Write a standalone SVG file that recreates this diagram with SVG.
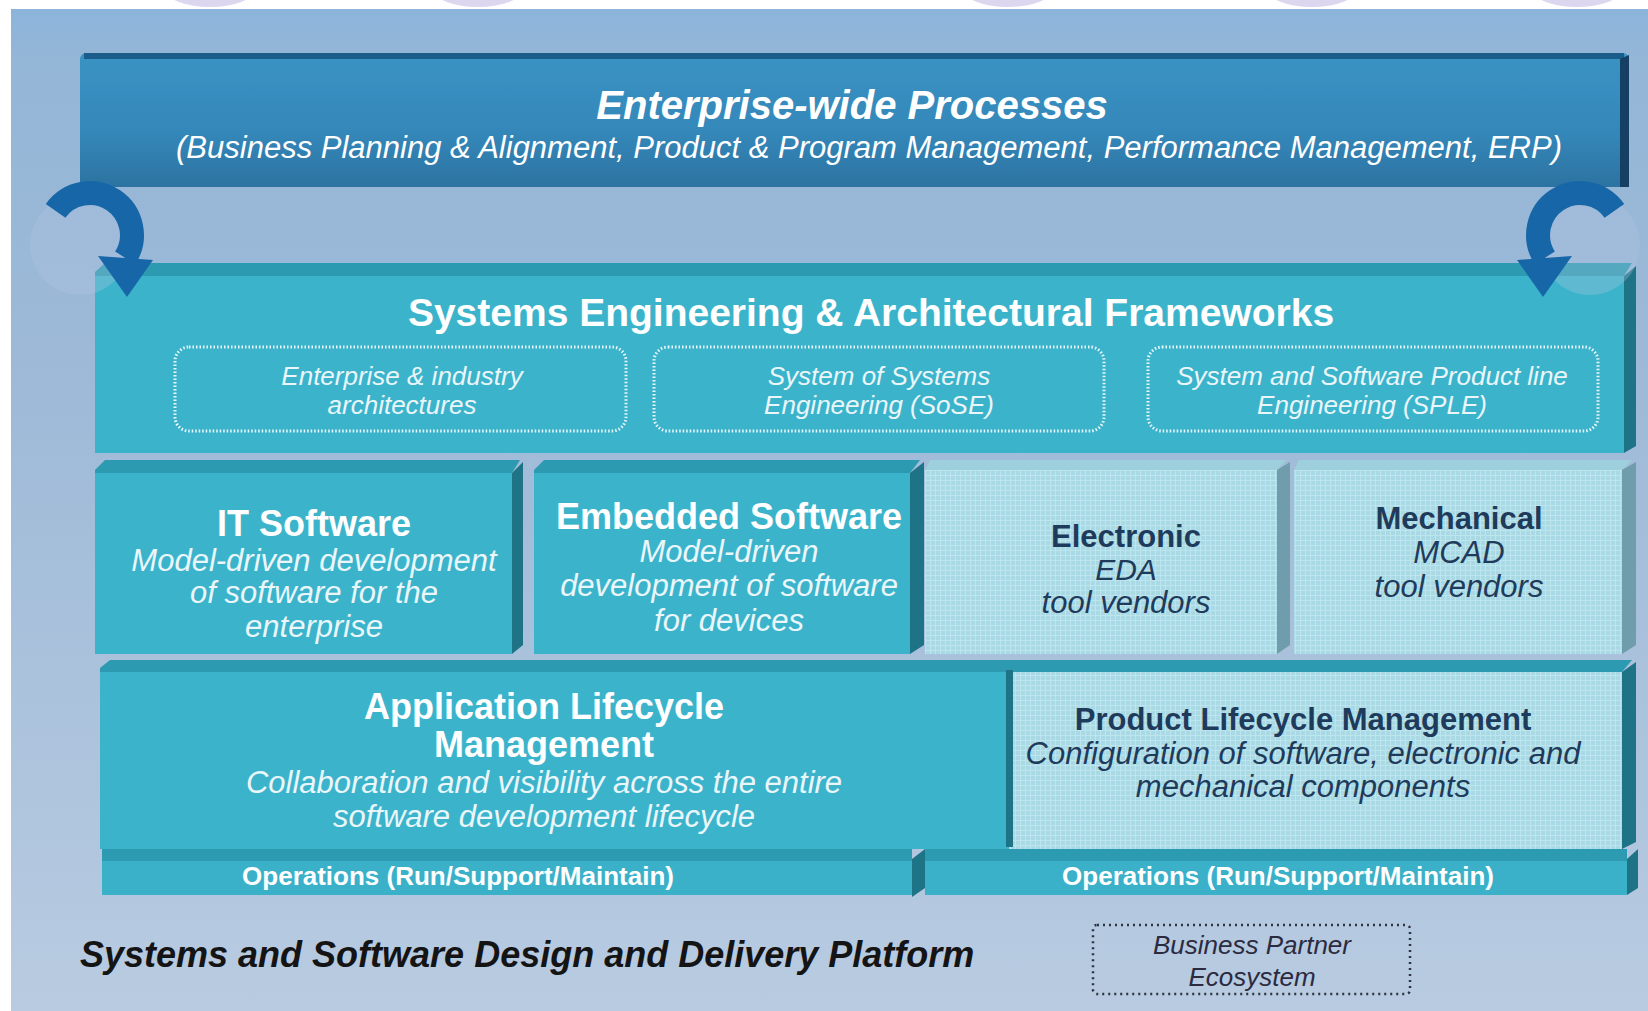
<svg xmlns="http://www.w3.org/2000/svg" width="1648" height="1011" viewBox="0 0 1648 1011">
<defs>
<linearGradient id="bgGrad" x1="0" y1="0" x2="0" y2="1">
<stop offset="0" stop-color="#8cb4db"/>
<stop offset="0.05" stop-color="#94b6d7"/>
<stop offset="0.35" stop-color="#9db9d7"/>
<stop offset="1" stop-color="#b8cbe1"/>
</linearGradient>
<linearGradient id="topGrad" x1="0" y1="0" x2="0" y2="1">
<stop offset="0" stop-color="#3a93c4"/>
<stop offset="0.6" stop-color="#3487b9"/>
<stop offset="1" stop-color="#2c73a1"/>
</linearGradient>
<pattern id="grid" width="5" height="5" patternUnits="userSpaceOnUse">
<rect width="5" height="5" fill="#a8d9e4"/>
<path d="M0 0.5H5M0.5 0V5" stroke="#bde5ed" stroke-width="1"/>
</pattern>
<style>
.t{font-family:"Liberation Sans",Arial,Helvetica,sans-serif;text-anchor:middle}
.w{fill:#ffffff}
.wi{fill:#eaf6fa;font-style:italic}
.b{font-weight:bold}
.i{font-style:italic}
.navy{fill:#1f3b5b}
.teal{fill:#3bb4cb}
.band{fill:#2c9bb1}
.bevel{fill:#1f7386}
.light{fill:url(#grid)}
.lband{fill:#9dd0dc}
.lbevel{fill:#6f9dab}
.dash{fill:none;stroke:#eaf7fb;stroke-width:3;stroke-dasharray:1.5 2}
.arrow{fill:none;stroke:#1767a8;stroke-width:24}
.ahead{fill:#1767a8}
.ghost{fill:#b3c8e0;opacity:0.3}
</style>
</defs>

<g id="background">
<rect x="0" y="0" width="1648" height="1011" fill="#ffffff"/>
<ellipse cx="210" cy="-10" rx="44" ry="17" fill="#dcd7ef"/>
<ellipse cx="478" cy="-10" rx="44" ry="17" fill="#dcd7ef"/>
<ellipse cx="1008" cy="-10" rx="44" ry="17" fill="#dcd7ef"/>
<ellipse cx="1312" cy="-10" rx="44" ry="17" fill="#dcd7ef"/>
<ellipse cx="1577" cy="-10" rx="44" ry="17" fill="#dcd7ef"/>
<rect x="11" y="9" width="1637" height="1002" fill="url(#bgGrad)"/>
</g>

<g id="enterprise-processes">
<rect x="80" y="53" width="1549" height="134" rx="6" fill="url(#topGrad)"/>
<rect x="84" y="53" width="1540" height="6" fill="#1a5d8a"/>
<polygon points="1620,59 1629,55 1629,187 1620,187" fill="#153f63"/>
<text x="852" y="119" font-size="40" class="t w b i">Enterprise-wide Processes</text>
<text x="869" y="158" font-size="31" class="t w i">(Business Planning &amp; Alignment, Product &amp; Program Management, Performance Management, ERP)</text>
</g>

<g id="systems-engineering">
<polygon points="105,263 1632,263 1624,276 95,276 95,272" class="band"/>
<rect x="95" y="276" width="1529" height="177" class="teal"/>
<polygon points="1624,276 1636,266 1636,446 1624,453" class="bevel"/>
<text x="871" y="326" font-size="39" class="t w b">Systems Engineering &amp; Architectural Frameworks</text>
<g id="enterprise-architectures">
<rect x="175" y="347" width="451" height="84" rx="14" class="dash"/>
<text x="402" y="385" font-size="26" class="t wi">Enterprise &amp; industry</text>
<text x="402" y="414" font-size="26" class="t wi">architectures</text>
</g>
<g id="sose">
<rect x="654" y="347" width="450" height="84" rx="14" class="dash"/>
<text x="879" y="385" font-size="26" class="t wi">System of Systems</text>
<text x="879" y="414" font-size="26" class="t wi">Engineering (SoSE)</text>
</g>
<g id="sple">
<rect x="1148" y="347" width="450" height="84" rx="14" class="dash"/>
<text x="1372" y="385" font-size="26" class="t wi">System and Software Product line</text>
<text x="1372" y="414" font-size="26" class="t wi">Engineering (SPLE)</text>
</g>
</g>

<g id="it-software">
<polygon points="105,460 520,460 512,473 95,473 95,470" class="band"/>
<rect x="95" y="473" width="417" height="181" class="teal"/>
<polygon points="512,473 523,462 523,645 512,654" class="bevel"/>
<text x="314" y="536" font-size="36" class="t w b">IT Software</text>
<text x="314" y="571" font-size="31" class="t wi">Model-driven development</text>
<text x="314" y="603" font-size="31" class="t wi">of software for the</text>
<text x="314" y="637" font-size="31" class="t wi">enterprise</text>
</g>

<g id="embedded-software">
<polygon points="544,460 920,460 910,473 534,473 534,470" class="band"/>
<rect x="534" y="473" width="376" height="181" class="teal"/>
<polygon points="910,473 924,462 924,645 910,654" class="bevel"/>
<text x="729" y="529" font-size="36" class="t w b">Embedded Software</text>
<text x="729" y="562" font-size="31" class="t wi">Model-driven</text>
<text x="729" y="596" font-size="31" class="t wi">development of software</text>
<text x="729" y="631" font-size="31" class="t wi">for devices</text>
</g>

<g id="electronic">
<polygon points="930,460 1286,460 1277,470 925,470" class="lband"/>
<rect x="925" y="470" width="352" height="184" class="light"/>
<polygon points="1277,470 1290,462 1290,645 1277,654" class="lbevel"/>
<text x="1126" y="547" font-size="31" class="t navy b">Electronic</text>
<text x="1126" y="580" font-size="30" class="t navy i">EDA</text>
<text x="1126" y="613" font-size="31" class="t navy i">tool vendors</text>
</g>

<g id="mechanical">
<polygon points="1299,460 1632,460 1622,470 1294,470" class="lband"/>
<rect x="1294" y="470" width="328" height="184" class="light"/>
<polygon points="1622,470 1636,462 1636,645 1622,654" class="lbevel"/>
<text x="1459" y="529" font-size="31" class="t navy b">Mechanical</text>
<text x="1459" y="563" font-size="31" class="t navy i">MCAD</text>
<text x="1459" y="597" font-size="31" class="t navy i">tool vendors</text>
</g>

<g id="alm">
<polygon points="110,660 1632,660 1622,672 100,672 100,668" class="band"/>
<rect x="100" y="672" width="909" height="177" class="teal"/>
<text x="544" y="719" font-size="36" class="t w b">Application Lifecycle</text>
<text x="544" y="757" font-size="36" class="t w b">Management</text>
<text x="544" y="793" font-size="31" class="t wi">Collaboration and visibility across the entire</text>
<text x="544" y="827" font-size="31" class="t wi">software development lifecycle</text>
</g>

<g id="plm">
<rect x="1009" y="672" width="613" height="177" class="light"/>
<rect x="1006" y="670" width="7" height="177" class="bevel"/>
<polygon points="1622,672 1636,662 1636,842 1622,849" class="bevel"/>
<text x="1303" y="730" font-size="31" class="t navy b">Product Lifecycle Management</text>
<text x="1303" y="764" font-size="31" class="t navy i">Configuration of software, electronic and</text>
<text x="1303" y="797" font-size="31" class="t navy i">mechanical components</text>
</g>

<g id="ops-left">
<rect x="102" y="849" width="810" height="12" class="band"/>
<rect x="102" y="861" width="810" height="34" fill="#3ab1c9"/>
<polygon points="912,859 925,849 925,888 912,897" class="bevel"/>
<text x="458" y="885" font-size="26" class="t w b">Operations (Run/Support/Maintain)</text>
</g>

<g id="ops-right">
<rect x="925" y="849" width="702" height="12" class="band"/>
<rect x="925" y="861" width="702" height="34" fill="#3ab1c9"/>
<polygon points="1627,859 1638,849 1638,888 1627,895" class="bevel"/>
<text x="1278" y="885" font-size="26" class="t w b">Operations (Run/Support/Maintain)</text>
</g>

<g id="platform-label">
<text x="80" y="967" font-size="36" font-family="Liberation Sans, Arial, sans-serif" font-weight="bold" font-style="italic" fill="#141414">Systems and Software Design and Delivery Platform</text>
</g>

<g id="business-partner">
<rect x="1093" y="925" width="317" height="69" rx="4" fill="none" stroke="#2d3340" stroke-width="2.5" stroke-dasharray="2 4"/>
<text x="1252" y="954" font-size="26" class="t i" fill="#2b2b40">Business Partner</text>
<text x="1252" y="986" font-size="26" class="t i" fill="#2b2b40">Ecosystem</text>
</g>

<g id="connectors">
<g id="arrow-left">
<circle cx="80" cy="245" r="50" class="ghost"/>
<path d="M55.6,210.9 A42,42 0 0 1 125.2,257.9" class="arrow"/>
<polygon points="98,256 153,260 127,297" class="ahead"/>
</g>
<g id="arrow-right" transform="translate(1670,0) scale(-1,1)">
<circle cx="80" cy="245" r="50" class="ghost"/>
<path d="M55.6,210.9 A42,42 0 0 1 125.2,257.9" class="arrow"/>
<polygon points="98,256 153,260 127,297" class="ahead"/>
</g>
</g>
</svg>
